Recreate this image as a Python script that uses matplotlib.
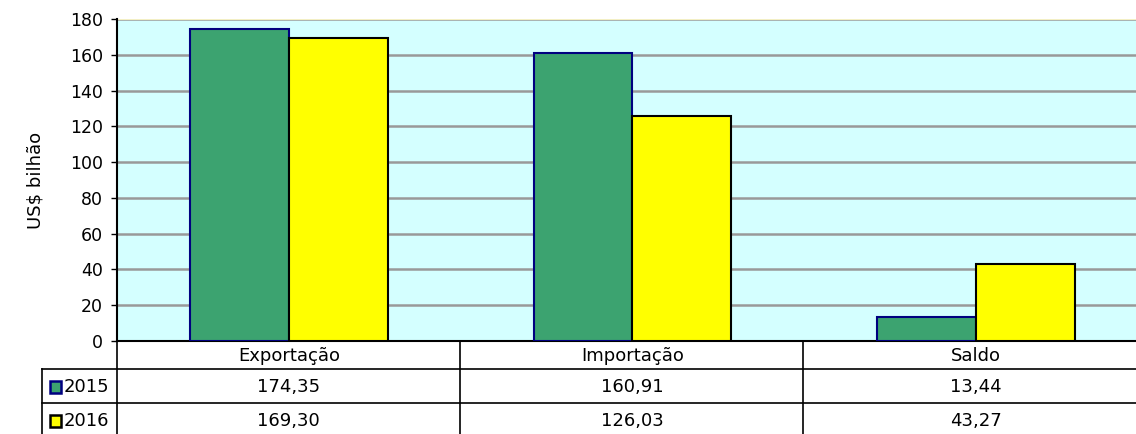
import matplotlib
matplotlib.use('Agg')
import matplotlib.pyplot as plt
from matplotlib.patches import Rectangle

categorias = ['Exportação', 'Importação', 'Saldo']
anos = ['2015', '2016']
v2015 = [174.35, 160.91, 13.44]
v2016 = [169.30, 126.03, 43.27]
rotulos2015 = ['174,35', '160,91', '13,44']
rotulos2016 = ['169,30', '126,03', '43,27']

verde = '#3ca370'
amarelo = '#ffff00'
fundo = '#d4ffff'

plt.rcParams['font.family'] = ['DejaVu Sans']
plt.rcParams['font.size'] = 12

fig = plt.figure(figsize=(11.36, 4.34), dpi=100)
W, H = 1136.0, 434.0
# area do grafico em pixels (passa um pouco da borda direita)
x0, x1, y0, y1 = 117, 1148, 19, 341
ax = fig.add_axes([x0 / W, 1 - y1 / H, (x1 - x0) / W, (y1 - y0) / H])
ax.set_facecolor(fundo)

larg = 0.288
xs = range(len(categorias))
ax.bar([i - larg / 2 for i in xs], v2015, larg, color=verde, edgecolor='#000080', linewidth=1.5, zorder=3)
ax.bar([i + larg / 2 for i in xs], v2016, larg, color=amarelo, edgecolor='black', linewidth=1.5, zorder=3)

ax.set_xlim(-0.5, 2.5)
ax.set_ylim(0, 180)
ax.set_yticks(range(0, 181, 20))
ax.set_xticks([])
ax.yaxis.grid(True, color='#999999', linewidth=1.8, zorder=1)
ax.axhline(180, color='#f3efc4', linewidth=1.5, zorder=2)
for s in ['top', 'right']:
    ax.spines[s].set_visible(False)
ax.spines['left'].set_linewidth(1.5)
ax.spines['bottom'].set_linewidth(1.5)
ax.tick_params(axis='y', length=4, width=1, direction='out', labelsize=12.5, pad=6)
ax.set_ylabel('US$ bilhão', fontsize=13, labelpad=18)

# tabela de dados embaixo
def fx(px):
    return (px - x0) / (x1 - x0)

def fy(py):
    return (y1 - py) / (y1 - y0)

linhas = dict(color='black', linewidth=1.2, transform=ax.transAxes, clip_on=False)
for py in [369, 403]:
    ax.plot([fx(42), 1.0], [fy(py), fy(py)], **linhas)
ax.plot([fx(42), fx(42)], [fy(369), fy(434)], **linhas)
ax.plot([0, 0], [fy(341), fy(434)], **linhas)
for px in [460, 803]:
    ax.plot([fx(px), fx(px)], [fy(341), fy(434)], **linhas)

tr = ax.get_xaxis_transform()
for i, cat in enumerate(categorias):
    ax.text(i, fy(356), cat, ha='center', va='center', fontsize=13, transform=tr, clip_on=False)
    ax.text(i, fy(387), rotulos2015[i], ha='center', va='center', fontsize=13, transform=tr, clip_on=False)
    ax.text(i, fy(421), rotulos2016[i], ha='center', va='center', fontsize=13, transform=tr, clip_on=False)

for ano, cor, borda, py in [(anos[0], verde, '#000080', 387), (anos[1], amarelo, 'black', 421)]:
    ax.add_patch(Rectangle((fx(50), fy(py + 6)), fx(61) - fx(50), fy(py - 6) - fy(py + 6),
                           facecolor=cor, edgecolor=borda, linewidth=1.8,
                           transform=ax.transAxes, clip_on=False))
    ax.text(fx(64), fy(py), ano, ha='left', va='center', fontsize=13,
            transform=ax.transAxes, clip_on=False)

fig.savefig('out.png', dpi=100)
